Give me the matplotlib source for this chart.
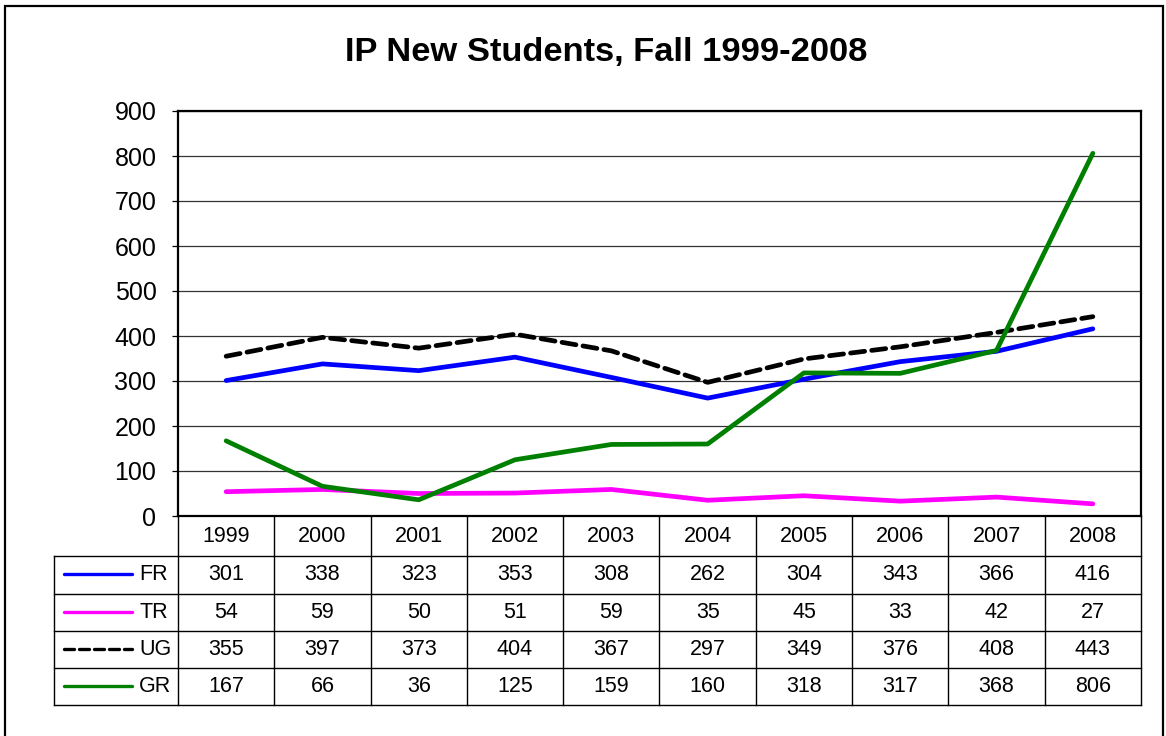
import matplotlib
matplotlib.use("Agg")
import matplotlib.pyplot as plt
from matplotlib.lines import Line2D
from matplotlib.patches import Rectangle

plt.rcParams['font.family'] = ['Liberation Sans', 'DejaVu Sans']

years = ['1999', '2000', '2001', '2002', '2003', '2004', '2005', '2006', '2007', '2008']
series_names = ['FR', 'TR', 'UG', 'GR']
fr = [301, 338, 323, 353, 308, 262, 304, 343, 366, 416]
tr = [54, 59, 50, 51, 59, 35, 45, 33, 42, 27]
ug = [355, 397, 373, 404, 367, 297, 349, 376, 408, 443]
gr = [167, 66, 36, 125, 159, 160, 318, 317, 368, 806]
colors = ['#0000ff', '#ff00ff', '#000000', '#008000']
styles = ['-', '-', (0, (3, 1.5)), '-']
yticks = [0, 100, 200, 300, 400, 500, 600, 700, 800, 900]
title = 'IP New Students, Fall 1999-2008'

W, H = 1166, 736
fig = plt.figure(figsize=(W / 100, H / 100), dpi=100)

def fx(px):
    return px / W

def fy(py):
    return 1 - py / H

# outer border
fig.patches.append(Rectangle((fx(5), fy(745)), fx(1163) - fx(5), fy(6) - fy(745),
                             transform=fig.transFigure, fill=False, ec='black', lw=1.6))

L, R, T, B = 178, 1141, 111, 516
ax = fig.add_axes([fx(L), fy(B), fx(R) - fx(L), fy(T) - fy(B)])
x = [i + 0.5 for i in range(len(years))]
data = [fr, tr, ug, gr]
for vals, c, ls in zip(data, colors, styles):
    ax.plot(x, vals, color=c, lw=3.4, ls=ls, solid_capstyle='round', dash_capstyle='round', zorder=3)
ax.set_xlim(0, len(years))
ax.set_ylim(0, 900)
ax.set_yticks(yticks)
ax.set_yticklabels([str(v) for v in yticks], fontsize=18)
ax.set_xticks([])
ax.grid(axis='y', color='#333333', lw=0.9)
for s in ax.spines.values():
    s.set_linewidth(1.6)
    s.set_color('black')
ax.tick_params(axis='y', length=4.5, width=0.9, pad=11, direction='out')

fig.text(fx(606), fy(53), title, ha='center', va='center', fontsize=24.8, fontweight='bold')

# data table
colw = (R - L) / len(years)
row_tops = [516, 556, 594, 631, 668, 705]
TL = 54
lw_t = 1.0
def hline(x0, x1, y):
    fig.add_artist(Line2D([fx(x0), fx(x1)], [fy(y), fy(y)], transform=fig.transFigure, color='black', lw=lw_t))
def vline(xp, y0, y1):
    fig.add_artist(Line2D([fx(xp), fx(xp)], [fy(y0), fy(y1)], transform=fig.transFigure, color='black', lw=lw_t))

for y in row_tops[1:]:
    hline(TL, R, y)
vline(TL, row_tops[1], row_tops[-1])
for i in range(len(years) + 1):
    vline(L + i * colw, row_tops[0], row_tops[-1])
for i, yr in enumerate(years):
    fig.text(fx(L + (i + 0.5) * colw), fy((row_tops[0] + row_tops[1]) / 2), yr,
             ha='center', va='center', fontsize=15.5)
for r, (name, vals, c, ls) in enumerate(zip(series_names, data, colors, styles)):
    yc = (row_tops[r + 1] + row_tops[r + 2]) / 2
    fig.add_artist(Line2D([fx(64), fx(132)], [fy(yc - 1), fy(yc - 1)], transform=fig.transFigure,
                          color=c, lw=2.4, ls=ls, solid_capstyle='round', dash_capstyle='round'))
    fig.text(fx(139), fy(yc), name, ha='left', va='center', fontsize=15.5)
    for i, v in enumerate(vals):
        fig.text(fx(L + (i + 0.5) * colw), fy(yc), str(v), ha='center', va='center', fontsize=15.5)

fig.savefig('out.png', dpi=100)
